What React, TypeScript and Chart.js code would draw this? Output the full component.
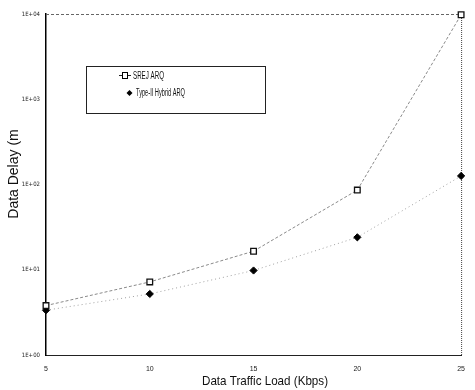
import React, { useEffect, useRef } from "react";
import { Chart, registerables } from "chart.js";
Chart.register(...registerables);

const loads = [5, 10, 15, 20, 25];
const srejDelay = [3.8, 7.2, 16.5, 86, 9800];
const hybridDelay = [3.35, 5.2, 9.8, 24, 126];
const yTicks = [1, 10, 100, 1000, 10000];
const yTickLabels = ["1E+00", "1E+01", "1E+02", "1E+03", "1E+04"];
const xTicks = [5, 10, 15, 20, 25];
const seriesNames = ["SREJ ARQ", "Type-II Hybrid ARQ"];
const xTitle = "Data Traffic Load (Kbps)";
const yTitle = "Data Delay (m";

function drawFitText(ctx: CanvasRenderingContext2D, text: string, x: number, y: number, font: string, width: number, align: "left" | "center") {
  ctx.save();
  ctx.font = font;
  const w = ctx.measureText(text).width;
  const sx = width / w;
  ctx.translate(x, y);
  ctx.scale(sx, 1);
  ctx.textAlign = align;
  ctx.textBaseline = "middle";
  ctx.fillText(text, 0, 0);
  ctx.restore();
}

const decor = {
  id: "decor",
  beforeDatasetsDraw(chart: any) {
    const { ctx, chartArea: a } = chart;
    ctx.save();
    ctx.strokeStyle = "#666";
    ctx.lineWidth = 1;
    ctx.setLineDash([3, 2]);
    ctx.beginPath();
    ctx.moveTo(a.left, a.top + 0.5);
    ctx.lineTo(a.right, a.top + 0.5);
    ctx.stroke();
    ctx.strokeStyle = "#444";
    ctx.setLineDash([1, 1]);
    ctx.beginPath();
    ctx.moveTo(a.right + 0.5, a.top);
    ctx.lineTo(a.right + 0.5, a.bottom);
    ctx.stroke();
    ctx.restore();
  },
  afterDraw(chart: any) {
    const { ctx } = chart;
    ctx.save();
    ctx.fillStyle = "#111";
    // x title
    drawFitText(ctx, xTitle, 265, 381, "13px 'Liberation Sans', Arial, sans-serif", 126, "center");
    // y title
    ctx.save();
    ctx.translate(14, 174);
    ctx.rotate(-Math.PI / 2);
    ctx.font = "14px 'Liberation Sans', Arial, sans-serif";
    ctx.textAlign = "center";
    ctx.textBaseline = "middle";
    ctx.fillText(yTitle, 0, 0);
    ctx.restore();
    // legend box
    ctx.fillStyle = "#fff";
    ctx.fillRect(86, 66, 179, 47);
    ctx.strokeStyle = "#222";
    ctx.lineWidth = 1;
    ctx.strokeRect(86.5, 66.5, 179, 47);
    // entry 1
    ctx.beginPath();
    ctx.moveTo(119, 75.5);
    ctx.lineTo(131, 75.5);
    ctx.stroke();
    ctx.fillStyle = "#fff";
    ctx.fillRect(122, 73, 5, 5);
    ctx.strokeStyle = "#000";
    ctx.strokeRect(122.5, 72.5, 5, 6);
    ctx.fillStyle = "#111";
    drawFitText(ctx, seriesNames[0], 133, 76, "10px 'Liberation Sans', Arial, sans-serif", 31, "left");
    // entry 2
    ctx.beginPath();
    ctx.moveTo(129.5, 90);
    ctx.lineTo(132.5, 93);
    ctx.lineTo(129.5, 96);
    ctx.lineTo(126.5, 93);
    ctx.closePath();
    ctx.fillStyle = "#000";
    ctx.fill();
    ctx.fillStyle = "#111";
    drawFitText(ctx, seriesNames[1], 136, 93, "10px 'Liberation Sans', Arial, sans-serif", 49, "left");
    ctx.restore();
  },
};

export default function App() {
  const ref = useRef<HTMLCanvasElement | null>(null);
  useEffect(() => {
    if (!ref.current) return;
    const tickFont = { size: 6, family: "'Liberation Sans Narrow', 'DejaVu Sans Condensed', Arial, sans-serif" };
    const chart = new Chart(ref.current, {
      type: "line",
      data: {
        datasets: [
          {
            label: seriesNames[0],
            data: loads.map((x, i) => ({ x, y: srejDelay[i] })),
            borderColor: "#8a8a8a",
            borderWidth: 1,
            borderDash: [3, 2],
            pointStyle: "rect",
            pointRadius: 4,
            pointBackgroundColor: "#fff",
            pointBorderColor: "#111",
            pointBorderWidth: 1.3,
            tension: 0,
            clip: false as any,
          },
          {
            label: seriesNames[1],
            data: loads.map((x, i) => ({ x, y: hybridDelay[i] })),
            borderColor: "#a0a0a0",
            borderWidth: 1,
            borderDash: [1, 3],
            pointStyle: "rectRot",
            pointRadius: 3.6,
            pointBackgroundColor: "#000",
            pointBorderColor: "#000",
            pointBorderWidth: 1,
            tension: 0,
            clip: false as any,
          },
        ],
      },
      options: {
        responsive: false,
        animation: false,
        devicePixelRatio: 1,
        layout: { padding: { top: 14, right: 5, left: 0, bottom: 0 } },
        plugins: { legend: { display: false }, tooltip: { enabled: false } },
        scales: {
          x: {
            type: "linear",
            min: 5,
            max: 25,
            afterBuildTicks: (s: any) => {
              s.ticks = xTicks.map((v) => ({ value: v }));
            },
            afterFit: (s: any) => {
              s.height = 35;
            },
            grid: { display: false, drawTicks: false },
            border: { color: "#222", width: 1 },
            ticks: {
              font: { size: 7, family: "'Liberation Sans', Arial, sans-serif" },
              color: "#222",
              padding: 10,
              maxRotation: 0,
              autoSkip: false,
              callback: (v: any) => String(v),
            },
          },
          y: {
            type: "logarithmic",
            min: 1,
            max: 10000,
            afterBuildTicks: (s: any) => {
              s.ticks = yTicks.map((v) => ({ value: v }));
            },
            afterFit: (s: any) => {
              s.width = 46;
            },
            grid: { display: false, drawTicks: false },
            border: { color: "#000", width: 1.5 },
            ticks: {
              font: tickFont,
              color: "#222",
              padding: 6,
              autoSkip: false,
              callback: (v: any) => {
                const i = yTicks.indexOf(Number(v));
                return i >= 0 ? yTickLabels[i] : "";
              },
            },
          },
        },
      },
      plugins: [decor],
    } as any);
    return () => chart.destroy();
  }, []);
  return (
    <div style={{ position: "fixed", left: 0, top: 0, width: 475, height: 390, background: "#fff" }}>
      <canvas ref={ref} width={475} height={390} style={{ width: 475, height: 390, display: "block" }} />
    </div>
  );
}
